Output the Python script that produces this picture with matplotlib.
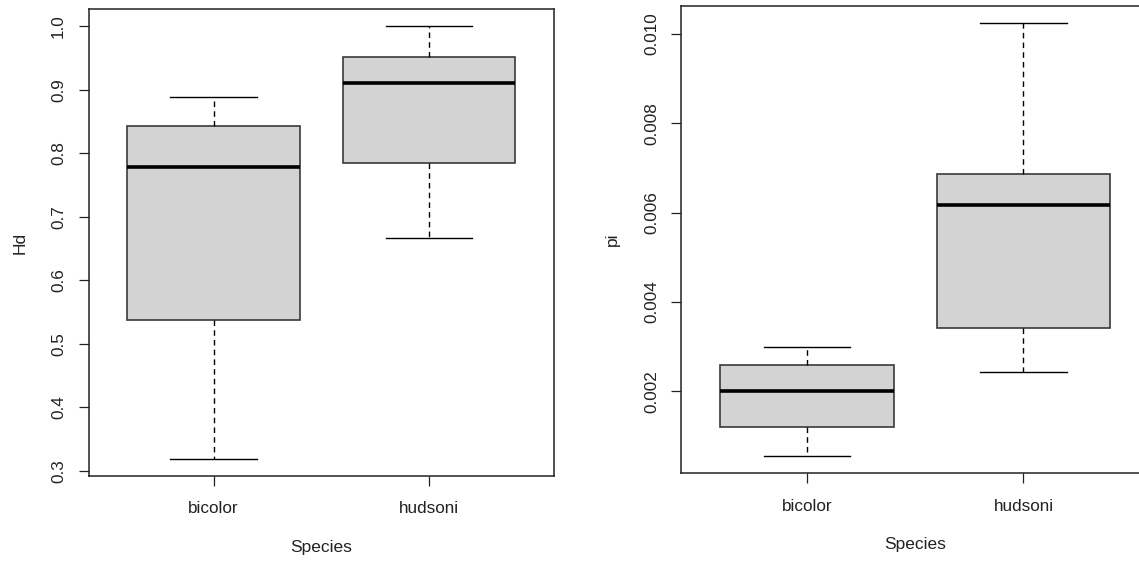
import matplotlib
matplotlib.use("Agg")
import matplotlib.pyplot as plt

plt.rcParams["font.family"] = ["Liberation Sans", "DejaVu Sans"]

# ── Data (five-number summaries) ─────────────────────────────────────────────
species = ["bicolor", "hudsoni"]

hd_low = [0.319, 0.667]
hd_q1 = [0.538, 0.785]
hd_med = [0.778, 0.911]
hd_q3 = [0.843, 0.951]
hd_high = [0.889, 1.000]

pi_low = [0.000544, 0.002432]
pi_q1 = [0.001192, 0.003424]
pi_med = [0.002000, 0.006168]
pi_q3 = [0.002576, 0.006864]
pi_high = [0.002990, 0.010240]

hd_ticks = [0.3, 0.4, 0.5, 0.6, 0.7, 0.8, 0.9, 1.0]
pi_ticks = [0.002, 0.004, 0.006, 0.008, 0.010]


def make_stats(low, q1, med, q3, high):
    return [
        {"whislo": lo, "q1": a, "med": m, "q3": b, "whishi": hi, "fliers": []}
        for lo, a, m, b, hi in zip(low, q1, med, q3, high)
    ]


def r_boxplot(ax, stats, ticks, fmt, ylabel):
    ax.bxp(
        stats,
        positions=[1, 2],
        widths=0.8,
        patch_artist=True,
        showfliers=False,
        boxprops=dict(facecolor="#d3d3d3", edgecolor="#3a3a3a", linewidth=1.2),
        medianprops=dict(color="black", linewidth=2.6, solid_capstyle="butt"),
        whiskerprops=dict(color="black", linewidth=1.0, linestyle=(0, (4, 3))),
        capprops=dict(color="black", linewidth=1.0),
        capwidths=0.4,
    )
    # R-style limits: data range padded by 4% on each side
    lo = min(s["whislo"] for s in stats)
    hi = max(s["whishi"] for s in stats)
    pad = 0.04 * (hi - lo)
    ax.set_ylim(lo - pad, hi + pad)
    ax.set_xlim(0.42, 2.58)

    ax.set_xticks([1, 2])
    ax.set_xticklabels(species)
    ax.set_yticks(ticks)
    ax.set_yticklabels([fmt.format(t) for t in ticks], rotation=90, va="center")

    ax.tick_params(axis="both", length=7.2, width=0.9, color="#222222",
                   labelsize=12.3, labelcolor="#222222")
    ax.tick_params(axis="x", pad=11)
    ax.tick_params(axis="y", pad=9)
    for sp in ax.spines.values():
        sp.set_linewidth(1.1)
        sp.set_color("#222222")

    ax.set_xlabel("Species", fontsize=12.5, color="#222222", labelpad=17)
    ax.set_ylabel(ylabel, fontsize=12.5, color="#222222", labelpad=17)


fig = plt.figure(figsize=(11.39, 5.63), dpi=100)
ax1 = fig.add_axes([0.0778, 0.1545, 0.4086, 0.8295])
ax2 = fig.add_axes([0.5983, 0.159, 0.4105, 0.8305])

r_boxplot(ax1, make_stats(hd_low, hd_q1, hd_med, hd_q3, hd_high),
          hd_ticks, "{:.1f}", "Hd")
r_boxplot(ax2, make_stats(pi_low, pi_q1, pi_med, pi_q3, pi_high),
          pi_ticks, "{:.3f}", "pi")

fig.savefig("out.png", dpi=100)
